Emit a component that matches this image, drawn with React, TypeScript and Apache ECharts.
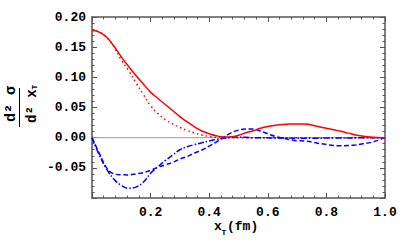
import React, { useEffect, useRef } from "react";
import * as echarts from "echarts";

const xs = [0, 0.025, 0.05, 0.075, 0.1, 0.125, 0.15, 0.175, 0.2, 0.225, 0.25, 0.275, 0.3, 0.325, 0.35, 0.375, 0.4, 0.425, 0.45, 0.475, 0.5, 0.525, 0.55, 0.575, 0.6, 0.625, 0.65, 0.675, 0.7, 0.725, 0.75, 0.775, 0.8, 0.825, 0.85, 0.875, 0.9, 0.925, 0.95, 0.975, 1.0];
const redSolid = [0.178, 0.175, 0.1665, 0.1515, 0.134, 0.118, 0.103, 0.089, 0.0755, 0.065, 0.055, 0.045, 0.035, 0.026, 0.018, 0.011, 0.0065, 0.003, 0.0012, 0.0015, 0.004, 0.008, 0.0115, 0.0155, 0.0185, 0.0205, 0.022, 0.0227, 0.0228, 0.0225, 0.021, 0.018, 0.0155, 0.013, 0.0105, 0.0075, 0.0045, 0.0025, 0.001, 0.0003, 0];
const redDotted = [0.178, 0.175, 0.1665, 0.1505, 0.129, 0.111, 0.091, 0.072, 0.053, 0.04, 0.03, 0.023, 0.017, 0.012, 0.008, 0.0045, 0.002, 0.0005, 0, 0, 0, 0, 0, 0, 0, 0, 0, 0, 0, 0, 0, 0, 0, 0, 0, 0, 0, 0, 0, 0, 0];
const blueDashed = [0, -0.026, -0.05, -0.06, -0.0615, -0.0617, -0.06, -0.058, -0.054, -0.049, -0.045, -0.041, -0.0355, -0.031, -0.0255, -0.0205, -0.014, -0.007, 0.001, 0.008, 0.0125, 0.0143, 0.0142, 0.011, 0.0065, 0.002, -0.0008, -0.003, -0.005, -0.0055, -0.007, -0.0095, -0.0115, -0.013, -0.0133, -0.013, -0.012, -0.01, -0.0082, -0.0045, 0];
const blueDashDot = [0, -0.029, -0.052, -0.069, -0.079, -0.084, -0.082, -0.074, -0.059, -0.048, -0.038, -0.029, -0.02, -0.015, -0.0115, -0.0085, -0.0055, -0.003, -0.001, 0.0005, 0.001, 0.0005, 0, 0, -0.0003, -0.0005, -0.0005, -0.0007, -0.0008, -0.0008, -0.0008, -0.0008, -0.0007, -0.0006, -0.0005, -0.0004, -0.0003, -0.0002, -0.0001, 0, 0];
const zeroLineX = [0, 1];
const zeroLineY = [0, 0];

const MONO = "'Liberation Mono', 'DejaVu Sans Mono', monospace";

export default function App() {
  const ref = useRef<HTMLDivElement>(null);
  useEffect(() => {
    document.body.style.margin = "0";
    const chart = echarts.init(ref.current!, undefined, { renderer: "svg" });
    const pairs = (ys: number[]) => xs.map((x, i) => [x, ys[i]]);
    const axisColor = "#555";
    const xAxisBase = {
      type: "value",
      min: 0,
      max: 1,
      interval: 0.2,
      splitLine: { show: false },
      axisLine: { show: true, onZero: false, lineStyle: { color: axisColor, width: 1.5 } },
      axisTick: { show: true, inside: true, length: 5, lineStyle: { color: axisColor, width: 1 } },
      minorTick: { show: true, splitNumber: 5, length: 2.5, lineStyle: { color: axisColor, width: 1 } },
    };
    const yAxisBase = {
      type: "value",
      min: -0.1,
      max: 0.2,
      interval: 0.05,
      splitLine: { show: false },
      axisLine: { show: true, onZero: false, lineStyle: { color: axisColor, width: 1.5 } },
      axisTick: { show: true, inside: true, length: 5, lineStyle: { color: axisColor, width: 1 } },
      minorTick: { show: true, splitNumber: 5, length: 2.5, lineStyle: { color: axisColor, width: 1 } },
    };
    const txt = (text: string, x: number, y: number, size: number, align: string, vAlign: string) => ({
      type: "text",
      x,
      y,
      style: {
        text,
        font: `bold ${size}px ${MONO}`,
        fill: "#000",
        align,
        textAlign: align,
        verticalAlign: vAlign,
        textVerticalAlign: vAlign,
      },
    });
    chart.setOption({
      animation: false,
      grid: { left: 92, right: 15, top: 17, bottom: 49 },
      xAxis: [
        {
          ...xAxisBase,
          position: "bottom",
          axisLabel: {
            show: true,
            margin: 8,
            color: "#000",
            fontFamily: MONO,
            fontWeight: "bold",
            fontSize: 13,
            formatter: (v: number) => (v < 0.01 ? "" : v.toFixed(1)),
          },
        },
        { ...xAxisBase, position: "top", axisLabel: { show: false } },
      ],
      yAxis: [
        {
          ...yAxisBase,
          position: "left",
          axisLabel: {
            show: true,
            margin: 6,
            color: "#000",
            fontFamily: MONO,
            fontWeight: "bold",
            fontSize: 13,
            formatter: (v: number) => (v < -0.099 ? "" : v.toFixed(2)),
          },
        },
        { ...yAxisBase, position: "right", axisLabel: { show: false } },
      ],
      series: [
        {
          type: "line",
          data: zeroLineX.map((x, i) => [x, zeroLineY[i]]),
          symbol: "none",
          silent: true,
          lineStyle: { color: "#999", width: 1 },
          z: 1,
        },
        {
          type: "line",
          data: pairs(redDotted),
          smooth: 0.4,
          symbol: "none",
          lineStyle: { color: "#ff0000", width: 1.5, type: [1.5, 3] },
          z: 2,
        },
        {
          type: "line",
          data: pairs(blueDashDot),
          smooth: 0.4,
          symbol: "none",
          lineStyle: { color: "#0000ff", width: 1.5, type: [6, 2, 1.5, 2] },
          z: 2,
        },
        {
          type: "line",
          data: pairs(blueDashed),
          smooth: 0.4,
          symbol: "none",
          lineStyle: { color: "#0000ff", width: 1.5, type: [5, 2.5] },
          z: 2,
        },
        {
          type: "line",
          data: pairs(redSolid),
          smooth: 0.4,
          symbol: "none",
          lineStyle: { color: "#ff0000", width: 1.5 },
          z: 3,
        },
      ],
      graphic: [
        {
          type: "group",
          x: 19.5,
          y: 107,
          rotation: Math.PI / 2,
          children: [
            txt("d\u00B2 \u03C3", -15, -8.5, 15, "left", "middle"),
            {
              type: "line",
              shape: { x1: -20, y1: 0, x2: 19, y2: 0 },
              style: { stroke: "#000", lineWidth: 1 },
            },
            txt("d\u00B2 x", -16, 12, 14, "left", "middle"),
            txt("T", 17.5, 15, 8, "left", "middle"),
          ],
        },
        txt("x", 214, 233, 13, "left", "bottom"),
        txt("T", 221.5, 236, 8, "left", "bottom"),
        txt("(fm)", 227, 233, 13, "left", "bottom"),
      ],
    });
    return () => chart.dispose();
  }, []);
  return <div ref={ref} style={{ position: "absolute", left: 0, top: 0, width: 400, height: 247 }} />;
}
